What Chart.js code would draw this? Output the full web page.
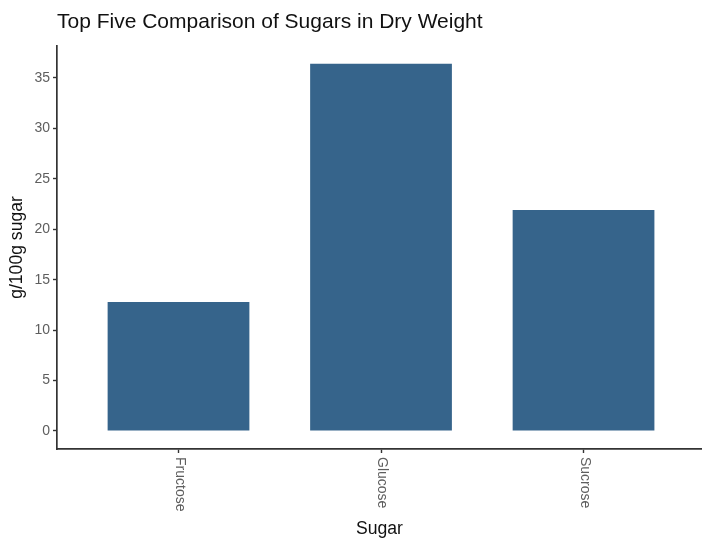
<!DOCTYPE html>
<html>
<head>
<meta charset="utf-8">
<title>Top Five Comparison of Sugars in Dry Weight</title>
<script src="https://cdn.jsdelivr.net/npm/chart.js@4.4.1/dist/chart.umd.min.js"></script>
<style>
  html, body { margin: 0; padding: 0; background: #ffffff; }
  #wrap { width: 702px; height: 538px; position: relative; }
</style>
</head>
<body>
<div id="wrap"><canvas id="graficoAcucares"></canvas></div>
<script>
// Dados
const sugars = ['Fructose', 'Glucose', 'Sucrose'];
const sugarValues = [12.8, 36.4, 21.9];
const yTicks = [0, 5, 10, 15, 20, 25, 30, 35];

Chart.defaults.font.family = "'Liberation Sans', Arial, sans-serif";

// x labels rotated clockwise (reading top to bottom), like the original
const rotatedLabels = {
    id: 'rotatedLabels',
    afterDraw(chart) {
        const xs = chart.scales.x;
        const ctx = chart.ctx;
        ctx.save();
        ctx.font = "14px 'Liberation Sans', Arial, sans-serif";
        ctx.fillStyle = '#5e5e5e';
        ctx.textAlign = 'left';
        ctx.textBaseline = 'middle';
        sugars.forEach((s, i) => {
            ctx.save();
            ctx.translate(xs.getPixelForValue(i + 1) + 1, xs.top + 8);
            ctx.rotate(Math.PI / 2);
            ctx.fillText(s, 0, 0);
            ctx.restore();
        });
        ctx.restore();
    }
};

const ctx = document.getElementById('graficoAcucares').getContext('2d');

new Chart(ctx, {
    type: 'bar',
    data: {
        datasets: [{
            label: 'g/100g sugar',
            data: sugars.map((s, i) => ({ x: i + 1, y: sugarValues[i] })),
            backgroundColor: '#36648B',
            borderWidth: 0,
            barPercentage: 0.7,
            categoryPercentage: 1
        }]
    },
    options: {
        responsive: true,
        maintainAspectRatio: false,
        animation: false,
        layout: { padding: 0 },
        plugins: {
            legend: { display: false },
            tooltip: { enabled: false },
            title: {
                display: true,
                text: 'Top Five Comparison of Sugars in Dry Weight',
                align: 'start',
                fullSize: false,
                color: '#111111',
                font: { size: 21, weight: 'normal', lineHeight: 1.2 },
                padding: { top: 10, bottom: 10.8 }
            }
        },
        scales: {
            x: {
                type: 'linear',
                min: 0.4,
                max: 3.585,
                offset: false,
                afterBuildTicks: (scale) => { scale.ticks = sugars.map((s, i) => ({ value: i + 1 })); },
                afterFit: (scale) => { scale.height = 89; },
                ticks: { display: false },
                grid: {
                    offset: false,
                    drawOnChartArea: false,
                    drawTicks: true,
                    tickLength: 4,
                    tickColor: '#333333',
                    tickWidth: 1.4
                },
                border: { display: true, color: '#333333', width: 1.7 },
                title: {
                    display: true,
                    text: 'Sugar',
                    color: '#111111',
                    font: { size: 17.6, lineHeight: 1 },
                    padding: { top: 0, bottom: 0.2 }
                }
            },
            y: {
                min: -1.785,
                max: 38.17,
                afterBuildTicks: (scale) => { scale.ticks = yTicks.map(v => ({ value: v })); },
                afterFit: (scale) => { scale.width = 57; },
                ticks: {
                    color: '#5e5e5e',
                    font: { size: 14 },
                    padding: 3
                },
                grid: {
                    drawOnChartArea: false,
                    drawTicks: true,
                    tickLength: 4,
                    tickColor: '#333333',
                    tickWidth: 1.4
                },
                border: { display: true, color: '#333333', width: 1.7 },
                title: {
                    display: true,
                    text: 'g/100g sugar',
                    color: '#111111',
                    font: { size: 17.6, lineHeight: 1 },
                    padding: { top: 8.2, bottom: 0 }
                }
            }
        }
    },
    plugins: [rotatedLabels]
});
</script>
</body>
</html>
